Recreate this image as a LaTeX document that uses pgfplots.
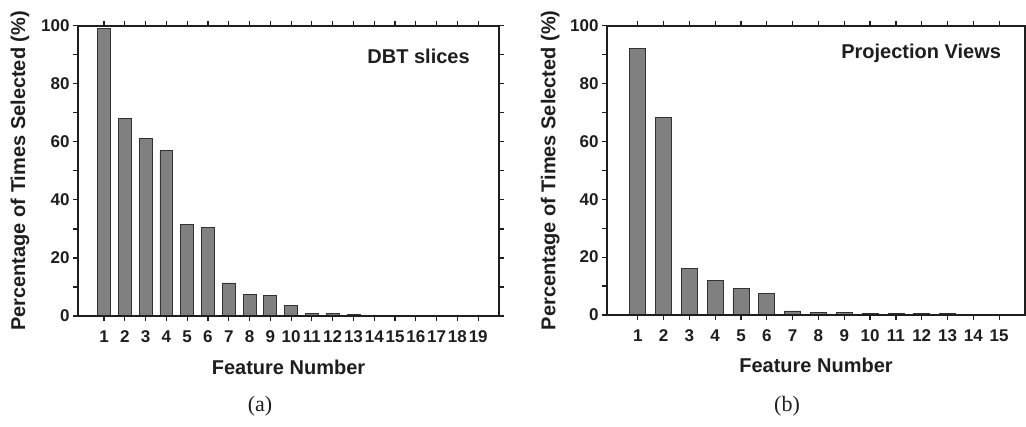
\documentclass[border=0pt]{standalone}
\usepackage{pgfplots}
\pgfplotsset{compat=1.18}
\usepackage{fontspec}
\setmainfont{Liberation Sans}
\newfontfamily\capfont{Liberation Serif}
\newfontfamily\tickfam[Scale=1.7]{Liberation Sans}
\definecolor{barfill}{RGB}{128,128,128}
\definecolor{baredge}{RGB}{50,50,50}
\definecolor{axcol}{RGB}{30,30,30}
\begin{document}
\begin{tikzpicture}[x=1pt,y=1pt]
\useasboundingbox (0,0) rectangle (1026,426);
\begin{axis}[
  scale only axis, axis on top,
  at={(78pt,110pt)}, anchor=south west,
  width=421pt, height=290.3pt,
  xmin=-0.25, xmax=20, ymin=0, ymax=100,
  xtick={1,...,19},
  ytick={0,20,...,100}, minor ytick={10,30,...,90},
  tick align=outside, major tick length=5pt, minor tick length=5pt,
  tick style={axcol, line width=1.2pt},
  minor tick style={axcol, line width=1.2pt},
  axis line style={axcol, line width=1.8pt},
  x tick label style={font=\tickfam\bfseries, text=axcol, yshift=-6pt},
  y tick label style={font=\tickfam\bfseries, text=axcol},
  /pgf/number format/assume math mode=true,
  xlabel={Feature Number},
  ylabel={Percentage of Times Selected (\%)},
  label style={font=\fontsize{20}{22}\selectfont\bfseries, text=axcol},
  xlabel style={at={(axis description cs:0.5,-0.176)}, anchor=center},
  ylabel style={at={(axis description cs:-0.138,0.5)}, anchor=center},
  ybar, bar width=0.62,
]
\addplot[fill=barfill, draw=baredge, line width=0.8pt] coordinates {(1,99.1) (2,68.1) (3,61.2) (4,56.9) (5,31.6) (6,30.5) (7,11.4) (8,7.5) (9,7.1) (10,3.6) (11,1.0) (12,0.9) (13,0.5) (14,0) (15,0) (16,0) (17,0) (18,0) (19,0)};
\node[anchor=east, font=\fontsize{20}{22}\selectfont\bfseries, text=axcol, inner sep=0pt] at (rel axis cs:0.931,0.893) {DBT slices};
\end{axis}
\begin{axis}[
  scale only axis, axis on top,
  at={(607pt,111pt)}, anchor=south west,
  width=418pt, height=289.3pt,
  xmin=-0.19, xmax=16, ymin=0, ymax=100,
  xtick={1,...,15},
  ytick={0,20,...,100}, minor ytick={10,30,...,90},
  tick align=outside, major tick length=5pt, minor tick length=5pt,
  tick style={axcol, line width=1.2pt},
  minor tick style={axcol, line width=1.2pt},
  axis line style={axcol, line width=1.8pt},
  x tick label style={font=\tickfam\bfseries, text=axcol, yshift=-6pt},
  y tick label style={font=\tickfam\bfseries, text=axcol},
  /pgf/number format/assume math mode=true,
  xlabel={Feature Number},
  ylabel={Percentage of Times Selected (\%)},
  label style={font=\fontsize{20}{22}\selectfont\bfseries, text=axcol},
  xlabel style={at={(axis description cs:0.5,-0.173)}, anchor=center},
  ylabel style={at={(axis description cs:-0.136,0.5)}, anchor=center},
  ybar, bar width=0.62,
]
\addplot[fill=barfill, draw=baredge, line width=0.8pt] coordinates {(1,92.2) (2,68.3) (3,16.1) (4,11.8) (5,9.1) (6,7.5) (7,1.4) (8,0.8) (9,0.8) (10,0.6) (11,0.5) (12,0.4) (13,0.4) (14,0) (15,0)};
\node[anchor=east, font=\fontsize{20}{22}\selectfont\bfseries, text=axcol, inner sep=0pt] at (rel axis cs:0.943,0.904) {Projection Views};
\end{axis}
\node[font=\capfont\fontsize{22}{24}\selectfont, text=axcol] at (260,19.5) {(a)};
\node[font=\capfont\fontsize{22}{24}\selectfont, text=axcol] at (787,19.5) {(b)};
\end{tikzpicture}
\end{document}
